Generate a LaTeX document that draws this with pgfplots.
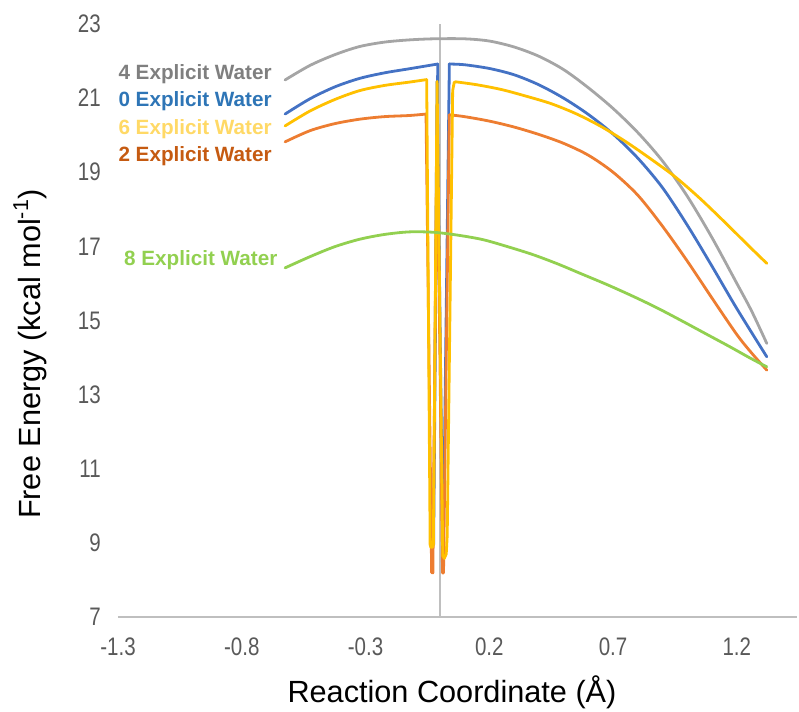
\documentclass[border=0pt]{standalone}
\usepackage{fontspec}
\setmainfont{Liberation Sans}
\newfontfamily\narrowfont[FakeStretch=0.81]{Liberation Sans}
\usepackage{pgfplots}
\pgfplotsset{compat=1.18}
\definecolor{cblue}{HTML}{4472C4}
\definecolor{corange}{HTML}{ED7D31}
\definecolor{cgray}{HTML}{A5A5A5}
\definecolor{cyellow}{HTML}{FFC000}
\definecolor{cgreen}{HTML}{92D050}
\definecolor{tblue}{HTML}{2E75B6}
\definecolor{torange}{HTML}{C55A11}
\definecolor{tyellow}{HTML}{FFD966}
\definecolor{tgray}{HTML}{7F7F7F}
\definecolor{tickgray}{HTML}{595959}
\definecolor{axgray}{HTML}{BFBFBF}

\begin{document}
\begin{tikzpicture}
\begin{axis}[
    name=ax, scale only axis, width=509.25pt, height=444.75pt,
    xmin=-1.3, xmax=1.443, ymin=7, ymax=23,
    axis line style={draw=none},
    xtick={-1.3,-0.8,-0.3,0.2,0.7,1.2},
    xticklabels={-1.3,-0.8,-0.3,0.2,0.7,1.2},
    ytick={7,9,...,23},
    yticklabels={7,9,11,13,15,17,19,21,23},
    major tick length=0pt, tick style={draw=none},
    tick label style={font=\narrowfont\fontsize{19}{19}\selectfont, text=tickgray, inner sep=0pt},
    xticklabel style={anchor=north, yshift=-15.75pt},
    yticklabel style={anchor=east, xshift=-12.75pt},
    xlabel={Reaction Coordinate (Å)},
    ylabel={Free Energy (kcal mol\textsuperscript{-1})},
    label style={font=\fontsize{23}{23}\selectfont},
    xlabel style={at={(rel axis cs:0.4919,-0.1265)}, anchor=center},
    ylabel style={at={(rel axis cs:-0.1296,0.4435)}, anchor=center},
    every axis plot/.append style={line width=2.1pt, line join=round, line cap=round},
    clip=false,
]
% axis lines
\draw[axgray, line width=1.1pt] (axis cs:-1.3,7) -- (axis cs:1.443,7);
\draw[axgray, line width=1.1pt] (axis cs:0,7) -- (axis cs:0,23);

% 0 explicit water
\addplot[cblue, smooth] coordinates {
(-0.625,20.57) (-0.525,20.98) (-0.425,21.3) (-0.325,21.53) (-0.225,21.68)
(-0.125,21.79) (-0.0083,21.92)
};
\addplot[cblue] coordinates {
(-0.0083,21.92) (-0.025,8.95) (-0.011,21.45) (0.013,8.4) (0.0386,21.92)
};
\addplot[cblue, smooth] coordinates {
(0.0386,21.92) (0.1,21.9) (0.2,21.8) (0.3,21.63) (0.4,21.36) (0.5,21.0)
(0.6,20.56) (0.7,20.03) (0.8,19.38) (0.9,18.58) (1.0,17.57) (1.1,16.46)
(1.2,15.32) (1.321,14.02)
};
% 2 explicit water
\addplot[corange, smooth] coordinates {
(-0.625,19.82) (-0.525,20.12) (-0.425,20.31) (-0.325,20.43) (-0.225,20.5)
(-0.125,20.53) (-0.0556,20.57)
};
\addplot[corange] coordinates {
(-0.0556,20.57) (-0.033,8.2) (-0.028,8.19) (-0.011,20.4) (0.011,8.19)
(0.015,8.19) (0.0386,20.55)
};
\addplot[corange, smooth] coordinates {
(0.0386,20.55) (0.1,20.5) (0.2,20.38) (0.3,20.22) (0.4,20.02) (0.5,19.78)
(0.6,19.46) (0.7,19.0) (0.8,18.38) (0.9,17.54) (1.0,16.6) (1.1,15.6)
(1.2,14.62) (1.26,14.12) (1.321,13.66)
};
% 4 explicit water
\addplot[cgray, smooth] coordinates {
(-0.625,21.49) (-0.525,21.88) (-0.425,22.17) (-0.325,22.39) (-0.225,22.51)
(-0.125,22.57) (-0.025,22.6) (0.1,22.6) (0.2,22.54) (0.3,22.38)
(0.4,22.13) (0.5,21.77) (0.6,21.28) (0.7,20.72) (0.8,20.07) (0.9,19.3)
(1.0,18.35) (1.1,17.23) (1.2,16.0) (1.26,15.25) (1.321,14.38)
};
% 6 explicit water
\addplot[cyellow, smooth] coordinates {
(-0.625,20.25) (-0.525,20.65) (-0.425,20.96) (-0.325,21.2) (-0.225,21.34)
(-0.125,21.43) (-0.053,21.5)
};
\addplot[cyellow] coordinates {
(-0.053,21.5) (-0.039,8.95) (-0.036,8.88) (-0.03,8.88) (-0.026,8.95)
(-0.011,21.45) (0.012,8.65) (0.018,8.58) (0.026,8.7) (0.03,9.2)
(0.052,21.2) (0.058,21.42) (0.064,21.44)
};
\addplot[cyellow, smooth] coordinates {
(0.064,21.44) (0.15,21.36) (0.25,21.23) (0.35,21.05) (0.45,20.85)
(0.55,20.58) (0.65,20.24) (0.75,19.83) (0.85,19.37) (0.95,18.88)
(1.05,18.3) (1.15,17.66) (1.25,17.0) (1.321,16.54)
};
% 8 explicit water
\addplot[cgreen, smooth] coordinates {
(-0.625,16.42) (-0.525,16.72) (-0.425,16.99) (-0.325,17.19) (-0.225,17.32)
(-0.125,17.39) (-0.025,17.38) (0.075,17.3) (0.175,17.18) (0.275,16.99)
(0.375,16.78) (0.475,16.53) (0.575,16.25) (0.675,15.97) (0.775,15.67)
(0.875,15.35) (0.975,15.0) (1.075,14.64) (1.175,14.28) (1.25,14.0)
(1.321,13.75)
};

% series labels
\begin{scope}[every node/.style={anchor=base west, inner sep=0pt, font=\bfseries\fontsize{15.5}{15.5}\selectfont}]
\node[text=tgray]   at (axis cs:-1.299,21.508) {4 Explicit Water};
\node[text=tblue]   at (axis cs:-1.299,20.769) {0 Explicit Water};
\node[text=tyellow] at (axis cs:-1.299,20.005) {6 Explicit Water};
\node[text=torange] at (axis cs:-1.299,19.284) {2 Explicit Water};
\node[text=cgreen]  at (axis cs:-1.276,16.497) {8 Explicit Water};
\end{scope}
\end{axis}
\pgfresetboundingbox
\path[use as bounding box] (ax.south west) ++(-88.5pt,-71.25pt) rectangle ++(599.25pt,534pt);
\end{tikzpicture}
\end{document}
